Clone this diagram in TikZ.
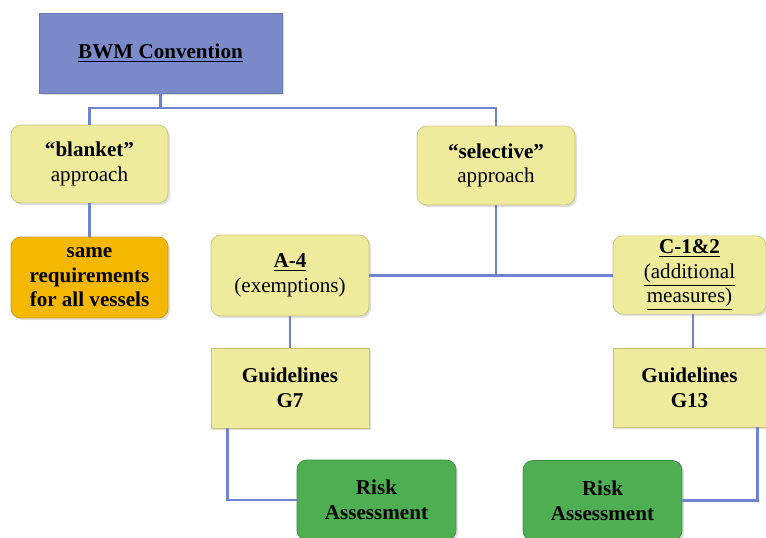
\documentclass[tikz,border=0pt]{standalone}
\usepackage{fontspec}
\setmainfont{Liberation Serif}
\usepackage{xcolor}
\usepackage{tikz}
\usetikzlibrary{positioning, calc, shadows}

\definecolor{bwmblue}{HTML}{7B8BC9}
\definecolor{bwmedge}{HTML}{6A79B2}
\definecolor{paleyellow}{HTML}{EFEB9C}
\definecolor{yellowedge}{HTML}{C9C37C}
\definecolor{ambre}{HTML}{F5B800}
\definecolor{ambreedge}{HTML}{CF9A08}
\definecolor{riskgreen}{HTML}{4DAE52}
\definecolor{greenedge}{HTML}{3F8F43}
\definecolor{linkblue}{HTML}{7083D2}

\begin{document}
\begin{tikzpicture}[x=0.02cm, y=-0.02cm, font=\fontsize{12}{14}\selectfont,
            link/.style={draw=linkblue, line width=1.6pt},
            base/.style={draw, align=center, inner sep=2pt, minimum width=3.16cm, minimum height=1.6cm,
                drop shadow={opacity=0.25, shadow xshift=1.2pt, shadow yshift=-1.2pt}},
            headbox/.style={base, fill=bwmblue, draw=bwmedge, minimum width=4.86cm},
            roundbox/.style={base, rounded corners=5.5pt, fill=paleyellow, draw=yellowedge},
            guidebox/.style={base, fill=paleyellow, draw=yellowedge},
            samebox/.style={base, rounded corners=5.5pt, fill=ambre, draw=ambreedge, font=\fontsize{12}{14}\selectfont\bfseries},
            riskbox/.style={base, rounded corners=5.5pt, fill=riskgreen, draw=greenedge, font=\fontsize{12}{14}\selectfont\bfseries}]

            \useasboundingbox (0,0) rectangle (766,537);
            \clip (0,0) rectangle (766,537);

            \node[headbox] (bwm) at (160.5,53) {\textbf{\underline{BWM Convention}}};
            \node[roundbox, minimum width=3.14cm, minimum height=1.56cm] (blanket) at (89.5,164) {\textbf{“blanket”}\\approach};
            \node[roundbox, minimum height=1.58cm] (selective) at (496,165.5) {\textbf{“selective”}\\approach};
            \node[samebox, minimum width=3.14cm, minimum height=1.62cm] (same) at (89.5,277.5) {same\\requirements\\for all vessels};
            \node[roundbox, minimum height=1.62cm] (a4) at (290,275.5) {\textbf{\underline{A-4}}\\(exemptions)};
            \node[roundbox, minimum width=3.06cm, minimum height=1.56cm] (c12) at (689.5,275) {\textbf{\underline{C-1\&2}}\\\underline{(additional}\\\underline{measures)}};
            \node[guidebox] (g7) at (290,388) {\textbf{Guidelines}\\\textbf{G7}};
            \node[guidebox, minimum width=3.06cm, minimum height=1.58cm] (g13) at (689.5,387.5) {\textbf{Guidelines}\\\textbf{G13}};
            \node[riskbox, minimum width=3.18cm] (riskL) at (376.5,500) {Risk\\Assessment};
            \node[riskbox, minimum width=3.18cm] (riskR) at (602.5,500.5) {Risk\\Assessment};

            \coordinate (split) at (bwm.south |- 0,108);
            \coordinate (junc) at (selective.south |- 0,275);

            \draw[link] (bwm.south) -- (split);
            \draw[link] (blanket.north) |- (split) -| (selective.north);
            \draw[link] (blanket.south) -- (same.north);
            \draw[link] (selective.south) -- (junc);
            \draw[link] (a4.east) -- (a4.east -| c12.west);
            \draw[link] (a4.south) -- (g7.north);
            \draw[link] ($(c12.south)+(3.5,0)$) -- ($(g13.north)+(3.5,0)$);
            \draw[link] ($(g7.south west)+(17,0)$) |- (riskL.west);
            \draw[link] ($(g13.south east)+(-9,0)$) |- (riskR.east);
        \end{tikzpicture}
\end{document}
